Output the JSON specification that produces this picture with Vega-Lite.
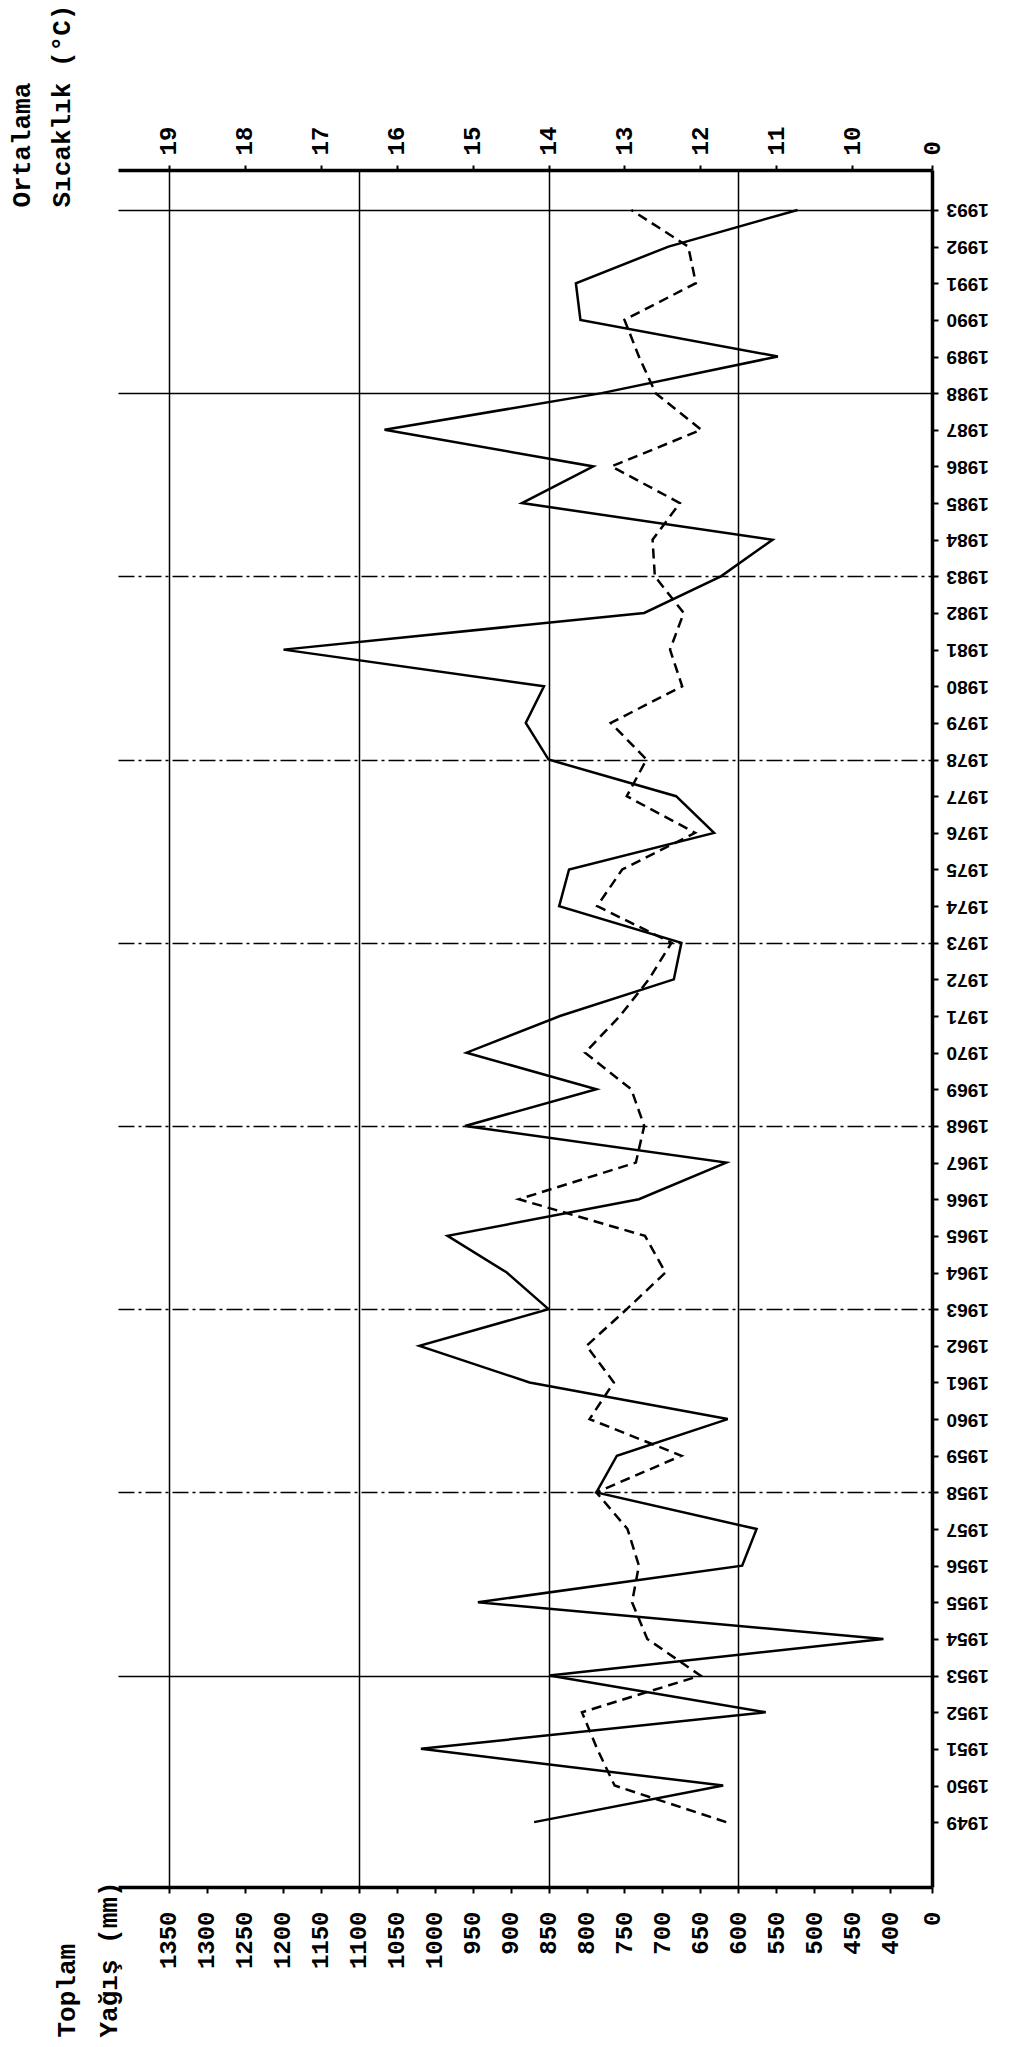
{
  "$schema": "https://vega.github.io/schema/vega-lite/v6.json",
  "width": 814,
  "height": 1717,
  "autosize": "none",
  "padding": {"left": 118, "top": 170, "right": 77, "bottom": 160},
  "background": "white",
  "data": {
    "values": [
      {"yil": 1949, "yagis": 869, "sicaklik": 11.66},
      {"yil": 1950, "yagis": 620, "sicaklik": 13.13},
      {"yil": 1951, "yagis": 1018, "sicaklik": 13.36},
      {"yil": 1952, "yagis": 564, "sicaklik": 13.56},
      {"yil": 1953, "yagis": 849, "sicaklik": 12.0},
      {"yil": 1954, "yagis": 409, "sicaklik": 12.7},
      {"yil": 1955, "yagis": 943, "sicaklik": 12.9},
      {"yil": 1956, "yagis": 595, "sicaklik": 12.81},
      {"yil": 1957, "yagis": 576, "sicaklik": 12.96},
      {"yil": 1958, "yagis": 787, "sicaklik": 13.37},
      {"yil": 1959, "yagis": 760, "sicaklik": 12.25},
      {"yil": 1960, "yagis": 614, "sicaklik": 13.46},
      {"yil": 1961, "yagis": 875, "sicaklik": 13.14},
      {"yil": 1962, "yagis": 1020, "sicaklik": 13.5},
      {"yil": 1963, "yagis": 850, "sicaklik": 12.97},
      {"yil": 1964, "yagis": 905, "sicaklik": 12.46},
      {"yil": 1965, "yagis": 983, "sicaklik": 12.73},
      {"yil": 1966, "yagis": 731, "sicaklik": 14.39},
      {"yil": 1967, "yagis": 616, "sicaklik": 12.85},
      {"yil": 1968, "yagis": 960, "sicaklik": 12.74},
      {"yil": 1969, "yagis": 787, "sicaklik": 12.91},
      {"yil": 1970, "yagis": 958, "sicaklik": 13.52},
      {"yil": 1971, "yagis": 835, "sicaklik": 13.06},
      {"yil": 1972, "yagis": 685, "sicaklik": 12.68},
      {"yil": 1973, "yagis": 675, "sicaklik": 12.38},
      {"yil": 1974, "yagis": 836, "sicaklik": 13.36},
      {"yil": 1975, "yagis": 823, "sicaklik": 13.03},
      {"yil": 1976, "yagis": 632, "sicaklik": 12.07},
      {"yil": 1977, "yagis": 682, "sicaklik": 12.97},
      {"yil": 1978, "yagis": 850, "sicaklik": 12.71},
      {"yil": 1979, "yagis": 880, "sicaklik": 13.18},
      {"yil": 1980, "yagis": 856, "sicaklik": 12.24},
      {"yil": 1981, "yagis": 1199, "sicaklik": 12.4},
      {"yil": 1982, "yagis": 724, "sicaklik": 12.22},
      {"yil": 1983, "yagis": 623, "sicaklik": 12.6},
      {"yil": 1984, "yagis": 555, "sicaklik": 12.63},
      {"yil": 1985, "yagis": 885, "sicaklik": 12.27},
      {"yil": 1986, "yagis": 791, "sicaklik": 13.17},
      {"yil": 1987, "yagis": 1066, "sicaklik": 11.99},
      {"yil": 1988, "yagis": 780, "sicaklik": 12.59},
      {"yil": 1989, "yagis": 548, "sicaklik": 12.81},
      {"yil": 1990, "yagis": 808, "sicaklik": 13.0},
      {"yil": 1991, "yagis": 814, "sicaklik": 12.06},
      {"yil": 1992, "yagis": 692, "sicaklik": 12.16},
      {"yil": 1993, "yagis": 522, "sicaklik": 12.91}
    ]
  },
  "config": {
    "view": {"stroke": null},
    "axis": {
      "domainColor": "#000",
      "tickColor": "#000",
      "labelColor": "#000",
      "titleColor": "#000",
      "gridColor": "#000",
      "labelFlush": false,
      "labelOverlap": false
    }
  },
  "encoding": {
    "order": {"field": "yil", "type": "quantitative"},
    "y": {
      "field": "yil",
      "type": "quantitative",
      "scale": {"domain": [1947.23, 1994.09], "nice": false, "zero": false},
      "axis": {
        "orient": "right",
        "values": [1949,1950,1951,1952,1953,1954,1955,1956,1957,1958,1959,1960,1961,1962,1963,1964,1965,1966,1967,1968,1969,1970,1971,1972,1973,1974,1975,1976,1977,1978,1979,1980,1981,1982,1983,1984,1985,1986,1987,1988,1989,1990,1991,1992,1993],
        "tickCount": 100,
        "format": "d",
        "labelOverlap": false,
        "labelAngle": 180,
        "labelFont": "Liberation Sans",
        "labelFontWeight": "bold",
        "labelFontSize": 19,
        "labelPadding": 8,
        "tickSize": 6,
        "tickWidth": 2,
        "domainWidth": 3.5,
        "grid": true,
        "gridWidth": 1.5,
        "gridOpacity": {"condition": {"test": "(1993 - datum.value) % 5 == 0", "value": 1}, "value": 0},
        "gridDash": {"condition": {"test": "datum.value >= 1958 && datum.value <= 1983", "value": [16, 4, 3, 4]}, "value": []},
        "title": null
      }
    }
  },
  "layer": [
    {
      "mark": {"type": "line", "color": "#000", "strokeWidth": 2.5, "strokeDash": [10, 6]},
      "encoding": {
        "x": {
          "field": "sicaklik",
          "type": "quantitative",
          "scale": {"domain": [8.95, 19.67], "reverse": true, "nice": false, "zero": false},
          "axis": {
            "orient": "top",
            "values": [8.95, 10, 11, 12, 13, 14, 15, 16, 17, 18, 19],
            "tickCount": 100,
            "format": "d",
            "labelOverlap": false,
            "labelExpr": "datum.value < 9.5 ? '0' : datum.label",
            "labelAngle": -90,
            "labelFont": "Liberation Mono",
            "labelFontWeight": "bold",
            "labelFontSize": 24,
            "labelPadding": 10,
            "tickSize": 5,
            "tickWidth": 2,
            "domainWidth": 3.5,
            "grid": false,
            "title": ["Ortalama", "Sıcaklık (°C)"],
            "titleAngle": -90,
            "titleX": -110,
            "titleY": 37,
            "titleAlign": "left",
            "titleBaseline": "top",
            "titleFont": "Liberation Mono",
            "titleFontSize": 26,
            "titleFontWeight": "bold",
            "titleLineHeight": 40
          }
        }
      }
    },
    {
      "mark": {"type": "line", "color": "#000", "strokeWidth": 2.5},
      "encoding": {
        "x": {
          "field": "yagis",
          "type": "quantitative",
          "scale": {"domain": [345, 1417], "reverse": true, "nice": false, "zero": false},
          "axis": {
            "orient": "bottom",
            "values": [345,400,450,500,550,600,650,700,750,800,850,900,950,1000,1050,1100,1150,1200,1250,1300,1350],
            "tickCount": 100,
            "format": "d",
            "labelOverlap": false,
            "labelExpr": "datum.value < 360 ? '0' : datum.label",
            "labelAngle": -90,
            "labelFont": "Liberation Mono",
            "labelFontWeight": "bold",
            "labelFontSize": 24,
            "labelPadding": 18,
            "tickSize": 6,
            "tickWidth": 2,
            "domainWidth": 3.5,
            "grid": true,
            "gridWidth": 1.5,
            "gridOpacity": {"condition": {"test": "datum.value % 250 == 100", "value": 1}, "value": 0},
            "title": ["Toplam", "Yağış (mm)"],
            "titleAngle": -90,
            "titleX": -65,
            "titleY": 150,
            "titleAlign": "left",
            "titleBaseline": "top",
            "titleFont": "Liberation Mono",
            "titleFontSize": 26,
            "titleFontWeight": "bold",
            "titleLineHeight": 42
          }
        }
      }
    }
  ],
  "resolve": {"scale": {"x": "independent"}}
}
